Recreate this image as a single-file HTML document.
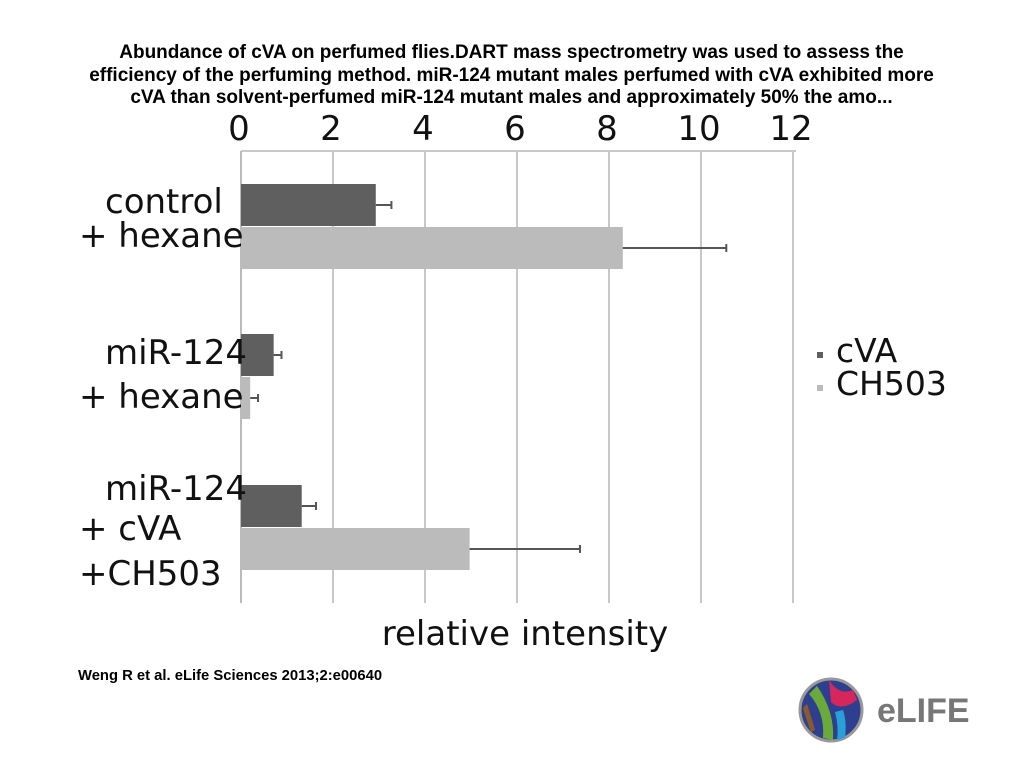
<!DOCTYPE html>
<html><head><meta charset="utf-8">
<style>
body{margin:0;width:1023px;height:767px;background:#fff;overflow:hidden;position:relative;font-family:"Liberation Sans",sans-serif}
.title{position:absolute;left:0;top:42px;width:1023px;text-align:center;font-weight:bold;font-size:19px;line-height:22.5px;color:#000}
.cite{position:absolute;left:78px;top:668px;font-weight:bold;font-size:14.8px}
</style></head><body>
<div class="title">Abundance of cVA on perfumed flies.DART mass spectrometry was used to assess the<br>efficiency of the perfuming method. miR-124 mutant males perfumed with cVA exhibited more<br>cVA than solvent-perfumed miR-124 mutant males and approximately 50% the amo...</div>
<svg id="chart" width="1023" height="767" style="position:absolute;left:0;top:0"></svg>
<div class="cite">Weng R et al. eLife Sciences 2013;2:e00640</div>
<svg width="180" height="80" style="position:absolute;left:795px;top:672px">
<circle cx="36" cy="38" r="31" fill="#2e3f8f" stroke="#999" stroke-width="3"/>
<path d="M14 22 Q30 40 28 66 L38 68 Q40 40 22 14Z" fill="#6aaa3a"/>
<path d="M34 8 Q44 24 58 18 L62 28 Q46 40 36 30Z" fill="#d6265c"/>
<path d="M40 40 Q44 55 42 68 L50 66 Q52 50 48 38Z" fill="#2aa0d8"/>
<path d="M8 36 Q12 50 16 60 L20 58 Q16 44 12 32Z" fill="#8b5a2b"/>
<text x="82" y="50" font-family="Liberation Sans,sans-serif" font-weight="bold" font-size="34" fill="#777">eLIFE</text>
</svg>
<script>
const categories=[["control","+ hexane"],["miR-124","+ hexane"],["miR-124","+ cVA","+CH503"]];
const cvaValues=[2.93,0.71,1.32];
const cvaErrors=[0.34,0.17,0.31];
const ch503Values=[8.3,0.2,4.97];
const ch503Errors=[2.25,0.17,2.4];
const ticks=[0,2,4,6,8,10,12];
const svg=document.getElementById('chart');
const NS='http://www.w3.org/2000/svg';
const x=v=>241+v*46;
const groupTop=[184,334,485];
const labelY=[[213,247],[364,408],[500,540,585]];
function mk(t,a,p){const e=document.createElementNS(NS,t);for(const k in a)e.setAttribute(k,a[k]);(p||svg).appendChild(e);return e;}
ticks.forEach((t,i)=>{
  if(i>0){const g=mk('line',{x1:x(t),x2:x(t),y1:151,y2:603,stroke:'#c8c8c8','stroke-width':2});
  
  }
  const tx=mk('text',{x:x(t)-2,y:140,'text-anchor':'middle','font-size':34,'font-family':'DejaVu Sans,sans-serif',fill:'#111'});
  tx.textContent=t;
  
  
});
const topl=mk('line',{x1:241,x2:796,y1:151,y2:151,stroke:'#c8c8c8','stroke-width':2});


const ax=mk('line',{x1:241,x2:241,y1:151,y2:603,stroke:'#bbb','stroke-width':2});


function bar(v,e,y,col,name){
  const r=mk('rect',{x:x(0),y:y,width:x(v)-x(0),height:42,fill:col});
  
  
  const ey=y+21;
  const l=mk('path',{d:`M${x(v)} ${ey}H${x(v+e)}M${x(v+e)} ${ey-4}V${ey+4}`,stroke:'#555','stroke-width':2,fill:'none'});
  
  
}
categories.forEach((c,i)=>{
  bar(cvaValues[i],cvaErrors[i],groupTop[i],'#5f5f5f','bar-cva');
  bar(ch503Values[i],ch503Errors[i],groupTop[i]+43,'#bbbbbb','bar-ch503');
  c.forEach((s,j)=>{
    const t=mk('text',{x:j===0?105:79,y:labelY[i][j],'font-size':34,'font-family':'DejaVu Sans,sans-serif',fill:'#111'});
    t.textContent=s;
    
    
  });
});
const xt=mk('text',{x:525,y:645,'text-anchor':'middle','font-size':34,'font-family':'DejaVu Sans,sans-serif',fill:'#111'});
xt.textContent='relative intensity';


[['cVA','#5f5f5f',362],['CH503','#bbbbbb',395]].forEach(([n,c,y])=>{
  const s=mk('rect',{x:817,y:y-10,width:6,height:6,fill:c});
  
  
  const t=mk('text',{x:836,y:y,'font-size':33,'font-family':'DejaVu Sans,sans-serif',fill:'#111'});
  t.textContent=n;
  
  
});
</script>
</body></html>
